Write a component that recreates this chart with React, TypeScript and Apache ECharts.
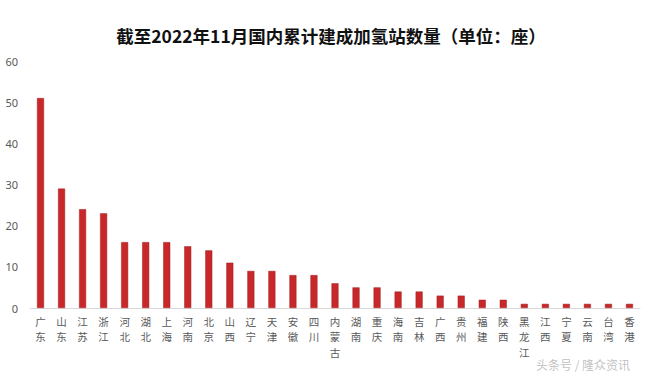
import React, { useEffect, useRef } from "react";
import * as echarts from "echarts";

const provinces = ["广东","山东","江苏","浙江","河北","湖北","上海","河南","北京","山西","辽宁","天津","安徽","四川","内蒙古","湖南","重庆","海南","吉林","广西","贵州","福建","陕西","黑龙江","江西","宁夏","云南","台湾","香港"];
const stations = [51,29,24,23,16,16,16,15,14,11,9,9,8,8,6,5,5,4,4,3,3,2,2,1,1,1,1,1,1];
const titleText = "截至2022年11月国内累计建成加氢站数量（单位：座）";

export default function App() {
  const ref = useRef<HTMLDivElement>(null);
  useEffect(() => {
    const chart = echarts.init(ref.current!, null, { renderer: "svg" });
    chart.setOption({
      animation: false,
      backgroundColor: "#fff",
      title: {
        text: titleText,
        left: "center",
        top: 22,
        textStyle: { fontFamily: "Noto Sans CJK SC", fontWeight: "bold", fontSize: 17.5, color: "#111" },
      },
      grid: { left: 30, right: 22, top: 61, bottom: 66 },
      xAxis: {
        type: "category",
        data: provinces,
        axisLine: { lineStyle: { color: "#d9d9d9" } },
        axisTick: { show: false },
        axisLabel: {
          interval: 0,
          color: "#595959",
          fontSize: 10.5,
          lineHeight: 15.3,
          fontFamily: "Noto Sans CJK SC",
          formatter: (v: string) => v.split("").join("\n"),
          margin: 6,
        },
      },
      yAxis: {
        type: "value",
        min: 0,
        max: 60,
        interval: 10,
        splitLine: { show: false },
        axisLine: { show: false },
        axisTick: { show: false },
        axisLabel: { color: "#595959", fontSize: 11, margin: 12, fontFamily: "Noto Sans" },
      },
      series: [
        {
          type: "bar",
          data: stations,
          barWidth: 7,
          itemStyle: { color: "#C9282A", borderColor: "#9e1f1f", borderWidth: 0.5 },
        },
      ],
      graphic: [
        {
          type: "text",
          left: 536,
          top: 358,
          style: { text: "头条号 / 隆众资讯", fill: "rgba(150,150,150,0.6)", fontSize: 12, fontFamily: "Noto Sans CJK SC" },
        },
      ],
    });
    return () => chart.dispose();
  }, []);
  return <div ref={ref} style={{ width: 662, height: 374, position: "absolute", left: 0, top: 0 }} />;
}
